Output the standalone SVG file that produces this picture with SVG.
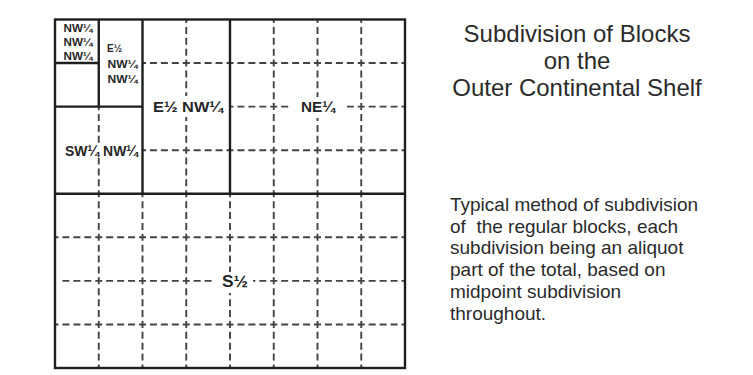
<svg xmlns="http://www.w3.org/2000/svg" width="753" height="375" viewBox="0 0 753 375">
<style>
.solid{stroke:#1e1e1e;stroke-width:2.4;fill:none}
.dh{stroke:#444;stroke-width:1.9;fill:none;stroke-dasharray:7 3.9375;stroke-dashoffset:3.5}
.dv{stroke:#444;stroke-width:1.9;fill:none;stroke-dasharray:7 3.89;stroke-dashoffset:3.5}
.lbl{font-family:"Liberation Sans",Arial,sans-serif;font-weight:bold;fill:#262626}
.sm{font-size:10.5px}
.md{font-size:15px}
.title{font-family:"Liberation Sans",Arial,sans-serif;font-size:24px;fill:#2b2b2b;text-anchor:middle}
.para{font-family:"Liberation Sans",Arial,sans-serif;font-size:19px;fill:#2b2b2b;white-space:pre}
</style>
<defs>
<mask id="gaps" maskUnits="userSpaceOnUse" x="0" y="0" width="753" height="375">
<rect x="0" y="0" width="753" height="375" fill="#fff"/>
<rect x="180" y="96" width="12" height="21" fill="#000"/>
<rect x="289" y="101" width="58" height="12" fill="#000"/>
<rect x="311" y="97" width="13" height="21" fill="#000"/>
<rect x="93" y="143" width="12" height="15" fill="#000"/>
<rect x="212" y="275" width="41" height="12" fill="#000"/>
<rect x="224" y="272" width="12" height="21" fill="#000"/>
<rect x="55" y="275" width="6.5" height="12" fill="#000"/>
</mask>
</defs>
<rect x="0" y="0" width="753" height="375" fill="#fff"/>
<g id="connectors">
<g id="dashed-lines" mask="url(#gaps)">
<line class="dv" x1="186.25" y1="19.5" x2="186.25" y2="193.75"/>
<line class="dh" x1="142.5" y1="63.06" x2="230" y2="63.06"/>
<line class="dh" x1="142.5" y1="150.19" x2="230" y2="150.19"/>
<line class="dv" x1="273.75" y1="19.5" x2="273.75" y2="193.75"/>
<line class="dv" x1="317.5" y1="19.5" x2="317.5" y2="193.75"/>
<line class="dv" x1="361.25" y1="19.5" x2="361.25" y2="193.75"/>
<line class="dh" x1="230" y1="63.06" x2="405" y2="63.06"/>
<line class="dh" x1="230" y1="106.63" x2="405" y2="106.63"/>
<line class="dh" x1="230" y1="150.19" x2="405" y2="150.19"/>
<line class="dv" x1="98.75" y1="106.63" x2="98.75" y2="193.75"/>
<line class="dv" x1="98.75" y1="193.75" x2="98.75" y2="368"/>
<line class="dv" x1="142.5" y1="193.75" x2="142.5" y2="368"/>
<line class="dv" x1="186.25" y1="193.75" x2="186.25" y2="368"/>
<line class="dv" x1="230" y1="193.75" x2="230" y2="368"/>
<line class="dv" x1="273.75" y1="193.75" x2="273.75" y2="368"/>
<line class="dv" x1="317.5" y1="193.75" x2="317.5" y2="368"/>
<line class="dv" x1="361.25" y1="193.75" x2="361.25" y2="368"/>
<line class="dh" x1="55" y1="237.31" x2="405" y2="237.31"/>
<line class="dh" x1="55" y1="280.88" x2="405" y2="280.88"/>
<line class="dh" x1="55" y1="324.44" x2="405" y2="324.44"/>
</g>
<g id="solid-lines">
<rect class="solid" x="55" y="19.5" width="350" height="348.5"/>
<line class="solid" x1="55" y1="193.75" x2="405" y2="193.75"/>
<line class="solid" x1="230" y1="19.5" x2="230" y2="193.75"/>
<line class="solid" x1="142.5" y1="19.5" x2="142.5" y2="193.75"/>
<line class="solid" x1="55" y1="106.63" x2="142.5" y2="106.63"/>
<line class="solid" x1="98.75" y1="19.5" x2="98.75" y2="106.63"/>
<line class="solid" x1="55" y1="63.06" x2="98.75" y2="63.06"/>
</g>
</g>
<g id="nw-nw-nw">
<text class="lbl sm" x="63.5" y="31.5" textLength="29" lengthAdjust="spacingAndGlyphs">NW¼</text>
<text class="lbl sm" x="63.5" y="45.5" textLength="29" lengthAdjust="spacingAndGlyphs">NW¼</text>
<text class="lbl sm" x="63.5" y="59.5" textLength="29" lengthAdjust="spacingAndGlyphs">NW¼</text>
</g>
<g id="e-nw-nw">
<text class="lbl sm" x="107" y="52" textLength="15" lengthAdjust="spacingAndGlyphs">E½</text>
<text class="lbl sm" x="107.5" y="67.5" textLength="30" lengthAdjust="spacingAndGlyphs">NW¼</text>
<text class="lbl sm" x="107.5" y="82.5" textLength="30" lengthAdjust="spacingAndGlyphs">NW¼</text>
</g>
<g id="e-nw">
<text class="lbl md" x="153" y="112" textLength="70" lengthAdjust="spacingAndGlyphs">E½ NW¼</text>
</g>
<g id="sw-nw">
<text class="lbl md" x="65" y="156" textLength="73" lengthAdjust="spacingAndGlyphs">SW¼ NW¼</text>
</g>
<g id="ne">
<text class="lbl md" x="301" y="112" textLength="34" lengthAdjust="spacingAndGlyphs">NE¼</text>
</g>
<g id="s-half">
<text class="lbl" style="font-size:16px" x="222" y="286.5" textLength="26" lengthAdjust="spacingAndGlyphs">S½</text>
</g>
<g id="title">
<text class="title" x="577" y="42">Subdivision of Blocks</text>
<text class="title" x="577" y="69">on the</text>
<text class="title" x="577" y="96">Outer Continental Shelf</text>
</g>
<g id="description">
<text class="para" x="450" y="211">Typical method of subdivision</text>
<text class="para" x="450" y="232.7">of  the regular blocks, each</text>
<text class="para" x="450" y="254.4">subdivision being an aliquot</text>
<text class="para" x="450" y="276.1">part of the total, based on</text>
<text class="para" x="450" y="297.8">midpoint subdivision</text>
<text class="para" x="450" y="319.5">throughout.</text>
</g>
</svg>
